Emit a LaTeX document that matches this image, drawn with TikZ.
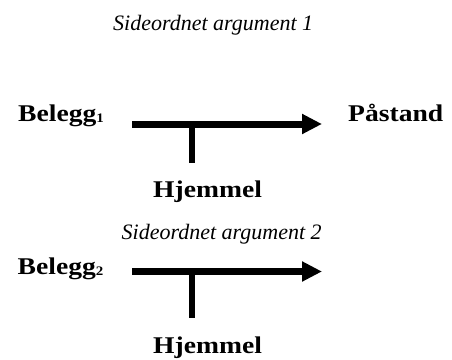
\documentclass[tikz,border=0pt]{standalone}
\usepackage{fontspec}
\setmainfont{Liberation Serif}
\newfontfamily\wideserif{Liberation Serif}[FakeStretch=1.15]
\usetikzlibrary{arrows.meta}
\newcommand{\smallsub}[1]{{\fontsize{13}{14}\selectfont\raisebox{-1pt}{#1}}}
\begin{document}
\begin{tikzpicture}[x=1pt,y=-1pt,
  lbl/.style={anchor=base west,inner sep=0pt,font=\wideserif\fontsize{24}{26}\selectfont\bfseries},
  captxt/.style={anchor=base west,inner sep=0pt,font=\fontsize{22}{24}\selectfont\itshape},
  arr/.style={line width=7pt,-{Triangle[length=20pt,width=19pt]}},
  stem/.style={line width=6pt}]
\useasboundingbox (0,0) rectangle (452,359);
% argument 1
\node[captxt] (c1) at (113,30) {Sideordnet argument 1};
\node[lbl] (b1) at (18,121) {Belegg\smallsub{1}};
\node[lbl] (p1) at (348,121) {Påstand};
\node[lbl] (h1) at (153,197) {Hjemmel};
\coordinate (a1s) at (132,124);
\coordinate (a1e) at (322,124);
\coordinate (s1t) at (192,124);
\coordinate (s1b) at (192,163);
\draw[arr] (a1s) -- (a1e);
\draw[stem] (s1t) -- (s1b);
% argument 2
\node[captxt] (c2) at (121.5,239) {Sideordnet argument 2};
\node[lbl] (b2) at (17.5,274) {Belegg\smallsub{2}};
\node[lbl] (h2) at (153,353) {Hjemmel};
\coordinate (a2s) at (132,271.5);
\coordinate (a2e) at (322,271.5);
\coordinate (s2t) at (192,271.5);
\coordinate (s2b) at (192,318);
\draw[arr] (a2s) -- (a2e);
\draw[stem] (s2t) -- (s2b);
\end{tikzpicture}
\end{document}
